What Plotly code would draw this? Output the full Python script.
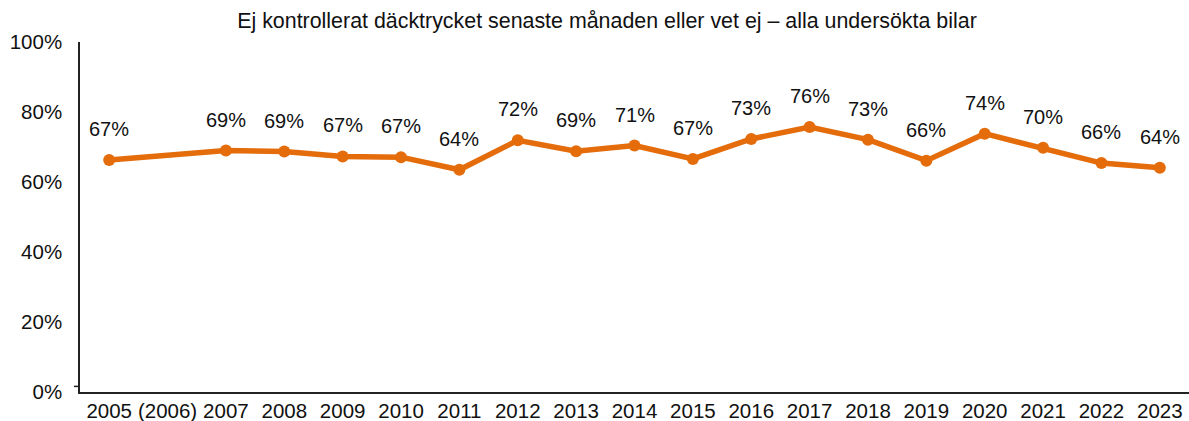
import plotly.graph_objects as go

categories = ["2005", "(2006)", "2007", "2008", "2009", "2010", "2011", "2012", "2013",
              "2014", "2015", "2016", "2017", "2018", "2019", "2020", "2021", "2022", "2023"]
values = [66.3, None, 69.0, 68.7, 67.3, 67.1, 63.5, 71.9, 68.8,
          70.4, 66.6, 72.3, 75.7, 72.1, 66.1, 73.8, 69.8, 65.4, 64.1]
labels = ["67%", "", "69%", "69%", "67%", "67%", "64%", "72%", "69%",
          "71%", "67%", "73%", "76%", "73%", "66%", "74%", "70%", "66%", "64%"]
y_ticks = [0, 20, 40, 60, 80, 100]
y_ticklabels = ["0%", "20%", "40%", "60%", "80%", "100%"]

ORANGE = "#E46C0A"
FONT = "Liberation Sans, Arial, Helvetica, sans-serif"

fig = go.Figure()
fig.add_trace(go.Scatter(
    x=categories, y=values, mode="lines+markers",
    connectgaps=True,
    line=dict(color=ORANGE, width=5.5),
    marker=dict(color=ORANGE, size=12),
    hoverinfo="skip",
))

for i, (v, t) in enumerate(zip(values, labels)):
    if v is None:
        continue
    fig.add_annotation(x=i, y=v, text=t, showarrow=False, yshift=31,
                       xanchor="center", yanchor="middle",
                       font=dict(size=20, color="#111111", family=FONT))

fig.update_layout(
    width=1189, height=421,
    margin=dict(l=80, r=0, t=42, b=29),
    paper_bgcolor="white", plot_bgcolor="white",
    showlegend=False,
    title=dict(text="Ej kontrollerat däcktrycket senaste månaden eller vet ej – alla undersökta bilar",
               x=0.5105, xanchor="center", y=0.952, yanchor="middle",
               font=dict(size=21.4, color="#111111", family=FONT)),
    font=dict(family=FONT, color="#111111"),
)
fig.update_xaxes(type="category", categoryorder="array", categoryarray=categories,
                 range=[-0.5, len(categories) - 0.5], automargin=False,
                 showline=True, linecolor="#222222", linewidth=1.5,
                 showgrid=False, ticks="", tickfont=dict(size=20.5, family=FONT, color="#111111"))
fig.update_yaxes(range=[0, 100], tickvals=y_ticks, ticktext=y_ticklabels, automargin=False,
                 showline=True, linecolor="#222222", linewidth=1.5,
                 showgrid=False, zeroline=False, ticks="", ticklabelstandoff=12,
                 tickfont=dict(size=20.5, family=FONT, color="#111111"))

# small stub at the axis origin
fig.add_shape(type="line", xref="paper", yref="y", x0=-0.0055, x1=0, y0=1.6, y1=1.6,
              line=dict(color="#222222", width=1.5))
fig.add_shape(type="line", xref="paper", yref="y", x0=-0.0055, x1=-0.0055, y0=-0.4, y1=-1.6,
              line=dict(color="#222222", width=2))

fig.write_html("out.html", config={"displayModeBar": False},
               post_script="document.body.style.margin='0';document.body.style.overflow='hidden';")
